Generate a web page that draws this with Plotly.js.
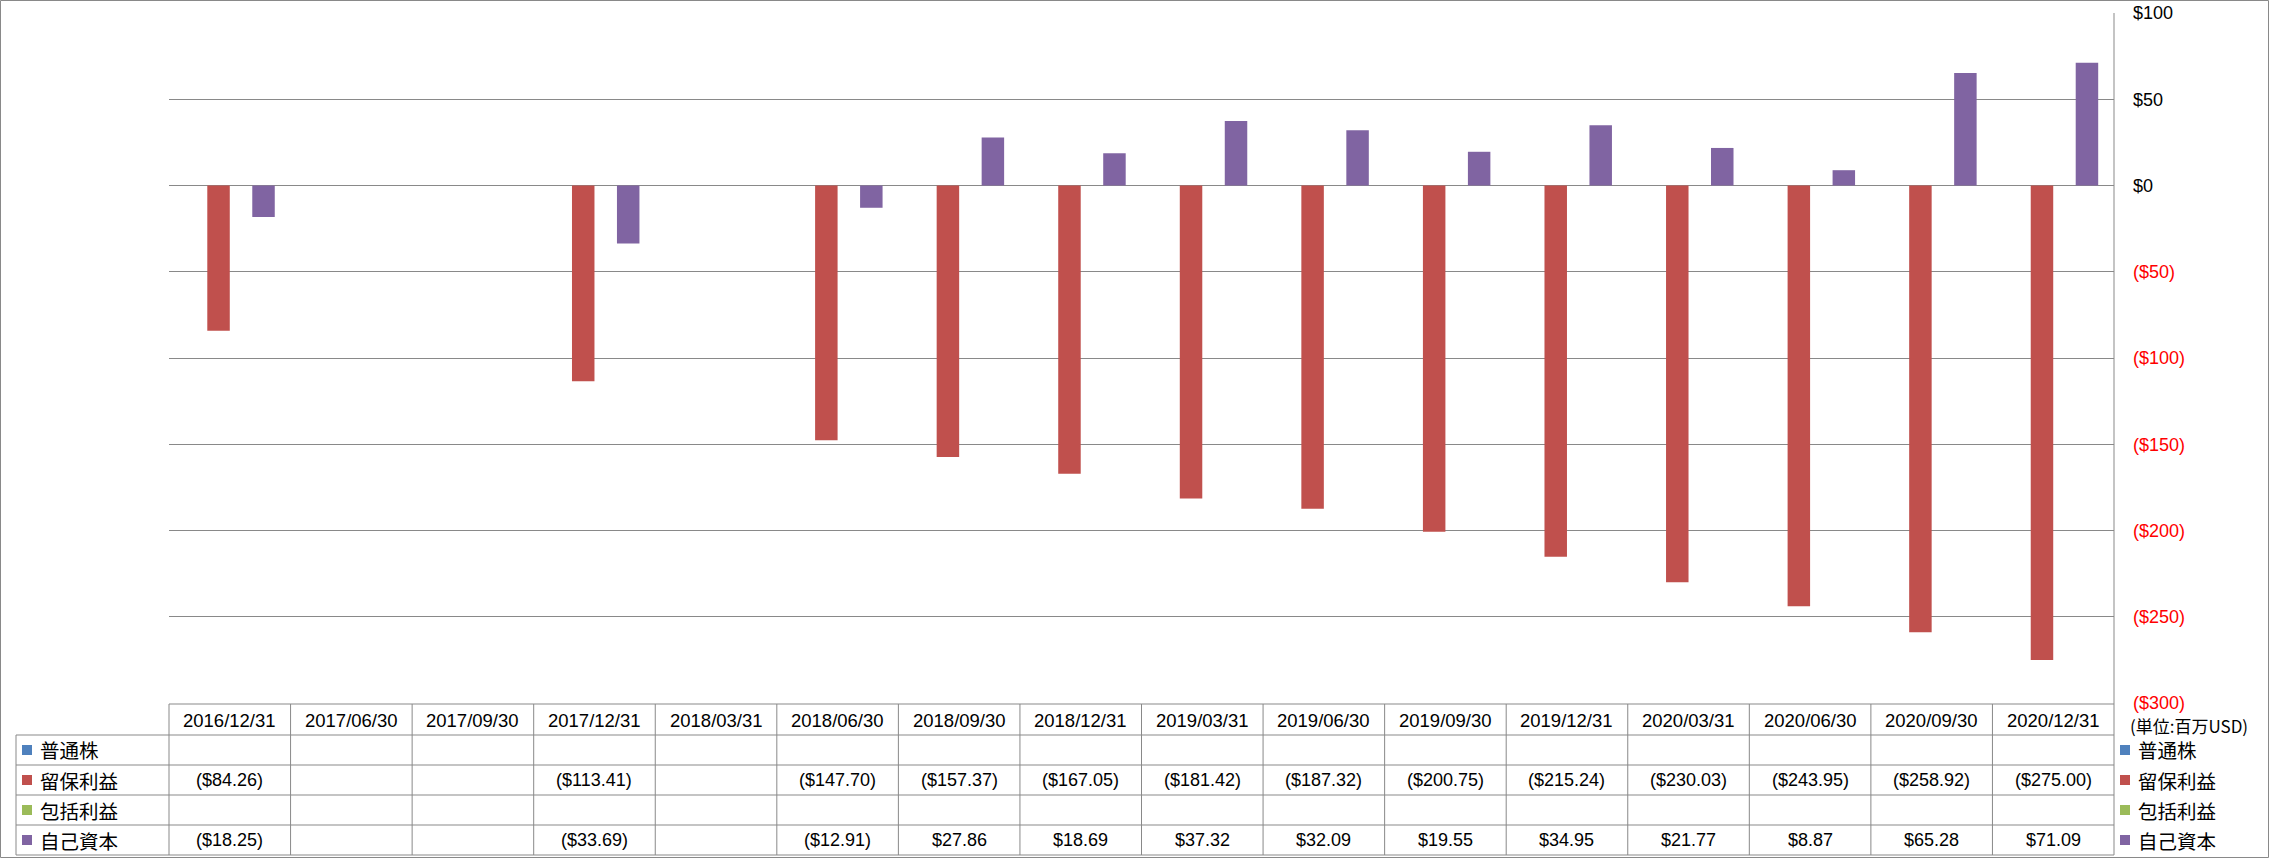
<!DOCTYPE html>
<html>
<head>
<meta charset="utf-8">
<script src="https://cdn.plot.ly/plotly-3.0.1.min.js"></script>
<style>html,body{margin:0;padding:0;background:#fff;}#chart{width:2269px;height:858px;}</style>
</head>
<body>
<div id="chart"></div>
<script>
const categories = ['2016/12/31','2017/06/30','2017/09/30','2017/12/31','2018/03/31','2018/06/30','2018/09/30','2018/12/31','2019/03/31','2019/06/30','2019/09/30','2019/12/31','2020/03/31','2020/06/30','2020/09/30','2020/12/31'];
const commonStock = [null,null,null,null,null,null,null,null,null,null,null,null,null,null,null,null];
const retainedEarnings = [-84.26,null,null,-113.41,null,-147.70,-157.37,-167.05,-181.42,-187.32,-200.75,-215.24,-230.03,-243.95,-258.92,-275.00];
const comprehensiveIncome = [null,null,null,null,null,null,null,null,null,null,null,null,null,null,null,null];
const equity = [-18.25,null,null,-33.69,null,-12.91,27.86,18.69,37.32,32.09,19.55,34.95,21.77,8.87,65.28,71.09];
const seriesNames = ['普通株','留保利益','包括利益','自己資本'];
const seriesColors = ['#4F81BD','#C0504D','#9BBB59','#8064A2'];
const tickValues = [100,50,0,-50,-100,-150,-200,-250,-300];
const tickLabels = ['$100','$50','$0','($50)','($100)','($150)','($200)','($250)','($300)'];
const unitLabel = '(単位:百万USD)';

const seriesData = [commonStock, retainedEarnings, comprehensiveIncome, equity];

// layout geometry (pixels)
const W = 2269, H = 858;
const L = 169, R = 2114, T = 13, B = 703;
const pw = R - L, ph = B - T;
const xr = [-0.5, categories.length - 0.5];
const px = x => (x - L) / pw;
const py = y => (B - y) / ph;
const cx = i => (i - xr[0]) / (xr[1] - xr[0]);

const barW = 0.185;
const traces = seriesData.map((d, k) => ({
  type: 'bar', name: seriesNames[k], x: categories, y: d,
  marker: {color: seriesColors[k]}, width: barW, offset: -0.37 + k * barW,
  hoverinfo: 'x+y+name', showlegend: false
}));

const fmt = v => v == null ? '' : (v < 0 ? '($' + Math.abs(v).toFixed(2) + ')' : '$' + v.toFixed(2));

const gray = '#898989';
const shapes = [];
const line = (x0, y0, x1, y1) => shapes.push({type:'line', xref:'paper', yref:'paper', x0, y0, x1, y1, line:{color:gray, width:1}});

// outer frame
shapes.push({type:'rect', xref:'paper', yref:'paper', x0:px(0.5), x1:px(W-0.5), y0:py(H-0.5), y1:py(0.5), line:{color:gray, width:1}});
// table rows
const rowLines = [704, 735, 765, 795, 825, 855];
line(px(L), py(704), px(R), py(704));
for (let r = 1; r < rowLines.length; r++) line(px(16), py(rowLines[r]), px(R), py(rowLines[r]));
// table verticals
line(px(16), py(735), px(16), py(855));
for (let i = 0; i < categories.length; i++) {
  const xx = cx(i - 0.5);
  line(xx, py(704), xx, py(855));
}
line(px(R), py(T), px(R), py(855));

const annotations = [];
const numFont = {family:'Liberation Sans, Arial, sans-serif', size:18, color:'#000'};
const cjkFont = {family:'Noto Sans CJK JP, sans-serif', size:19.5, color:'#000'};
categories.forEach((c, i) => {
  annotations.push({xref:'paper', yref:'paper', x:cx(i), y:py(720), text:c, showarrow:false, xanchor:'center', yanchor:'middle', font:{...numFont, size:18.5}});
});
const rowCenters = [750, 780, 810, 840];
seriesData.forEach((d, k) => {
  d.forEach((v, i) => {
    if (v == null) return;
    annotations.push({xref:'paper', yref:'paper', x:cx(i), y:py(rowCenters[k]), text:fmt(v), showarrow:false, xanchor:'center', yanchor:'middle', font:numFont});
  });
  // left legend
  shapes.push({type:'rect', xref:'paper', yref:'paper', x0:px(22), x1:px(32), y0:py(rowCenters[k]+5), y1:py(rowCenters[k]-5), fillcolor:seriesColors[k], line:{width:0}});
  annotations.push({xref:'paper', yref:'paper', x:px(38), y:py(rowCenters[k]), text:seriesNames[k], showarrow:false, xanchor:'left', yanchor:'middle', font:cjkFont});
  // right legend
  shapes.push({type:'rect', xref:'paper', yref:'paper', x0:px(2120), x1:px(2130), y0:py(rowCenters[k]+5), y1:py(rowCenters[k]-5), fillcolor:seriesColors[k], line:{width:0}});
  annotations.push({xref:'paper', yref:'paper', x:px(2136), y:py(rowCenters[k]), text:seriesNames[k], showarrow:false, xanchor:'left', yanchor:'middle', font:cjkFont});
});
annotations.push({xref:'paper', yref:'paper', x:px(2128), y:py(725), text:unitLabel, showarrow:false, xanchor:'left', yanchor:'middle', font:{family:'Noto Sans CJK JP, sans-serif', size:17, color:'#000'}});

const tickText = tickValues.map((v, i) => v < 0 ? '<span style="color:#FF0000">' + tickLabels[i] + '</span>' : tickLabels[i]);

const layout = {
  width: W, height: H,
  margin: {l: L, r: W - R, t: T, b: H - B, pad: 0},
  paper_bgcolor: '#fff', plot_bgcolor: '#fff',
  barmode: 'group',
  showlegend: false,
  xaxis: {type:'category', range: xr, showticklabels:false, showgrid:false, zeroline:false, showline:false, ticks:''},
  yaxis: {side:'right', range:[-300, 100], tickvals: tickValues, ticktext: tickText, showgrid:true, gridcolor:gray, gridwidth:1,
          zeroline:false, showline:false, ticks:'', ticklabelstandoff: 18,
          tickfont:{family:'Liberation Sans, Arial, sans-serif', size:18, color:'#000'}},
  shapes, annotations
};

Plotly.newPlot('chart', traces, layout, {displayModeBar:false, staticPlot:true});
</script>
</body>
</html>
